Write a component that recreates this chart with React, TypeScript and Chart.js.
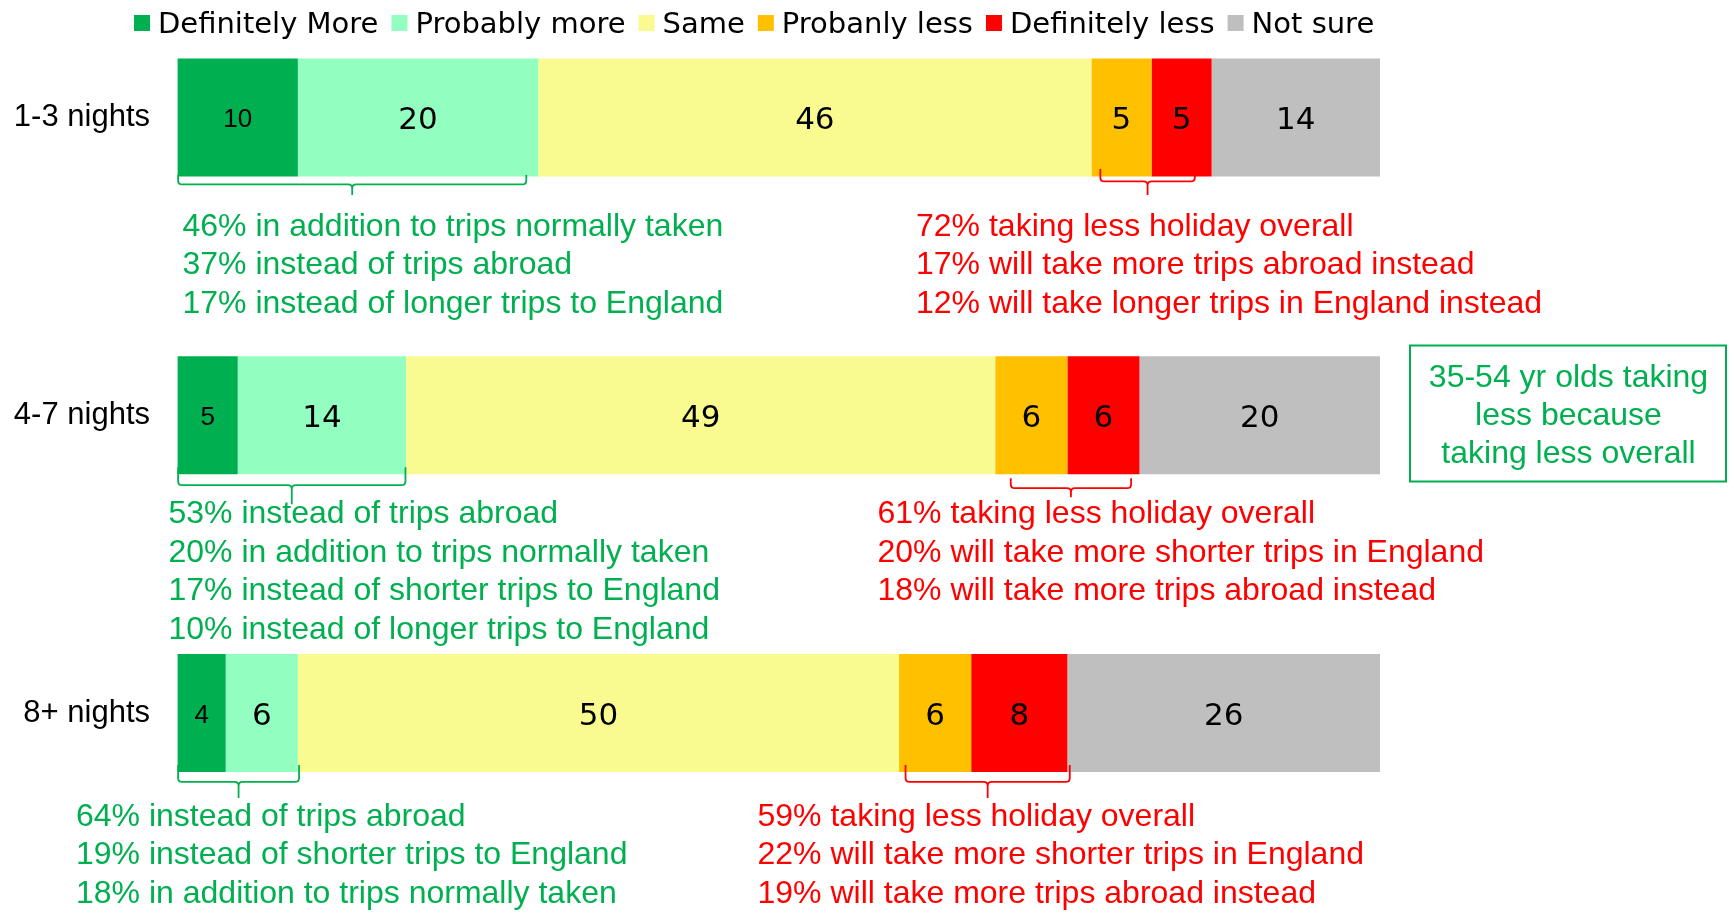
import React, { useEffect, useRef } from "react";
import { Chart, registerables } from "chart.js";

Chart.register(...registerables);

// ---------- data ----------
const CATEGORIES = ["1-3 nights", "4-7 nights", "8+ nights"];
const SERIES_LABELS = [
  "Definitely More",
  "Probably more",
  "Same",
  "Probanly less",
  "Definitely less",
  "Not sure",
];
const DEFINITELY_MORE = [10, 5, 4];
const PROBABLY_MORE = [20, 14, 6];
const SAME = [46, 49, 50];
const PROBABLY_LESS = [5, 6, 6];
const DEFINITELY_LESS = [5, 6, 8];
const NOT_SURE = [14, 20, 26];

const GREEN_NOTES_1 = [
  "46% in addition to trips normally taken",
  "37% instead of trips abroad",
  "17% instead of longer trips to England",
];
const RED_NOTES_1 = [
  "72% taking less holiday overall",
  "17% will take more trips abroad instead",
  "12% will take longer trips in England instead",
];
const GREEN_NOTES_2 = [
  "53% instead of trips abroad",
  "20% in addition to trips normally taken",
  "17% instead of shorter trips to England",
  "10% instead of longer trips to England",
];
const RED_NOTES_2 = [
  "61% taking less holiday overall",
  "20% will take more shorter trips in England",
  "18% will take more trips abroad instead",
];
const GREEN_NOTES_3 = [
  "64% instead of trips abroad",
  "19% instead of shorter trips to England",
  "18% in addition to trips normally taken",
];
const RED_NOTES_3 = [
  "59% taking less holiday overall",
  "22% will take more shorter trips in England",
  "19% will take more trips abroad instead",
];
const BOX_NOTE = ["35-54 yr olds taking", "less because", "taking less overall"];

// ---------- styles / layout ----------
const COLORS = ["#00B050", "#92FFC0", "#F9FA8F", "#FFC000", "#FF0000", "#BFBFBF"];
const NOTE_GREEN = "#00B050";
const NOTE_RED = "#FF0000";
const ARIAL = "'Liberation Sans', Arial, sans-serif";
const VERDANA = "'DejaVu Sans', Verdana, sans-serif";

// bracket spans expressed in axis units (percent), offsets in px relative to bar bottom
const BRACKETS = [
  { row: 0, from: 0, to: 29, color: NOTE_GREEN, top: -1.5, mid: 8, tip: 18.5 },
  { row: 0, from: 76.7, to: 84.6, color: NOTE_RED, top: -7.5, mid: 5, tip: 18.5 },
  { row: 1, from: 0, to: 18.95, color: NOTE_GREEN, top: -7, mid: 11, tip: 30 },
  { row: 1, from: 69.25, to: 79.3, color: NOTE_RED, top: 4, mid: 14, tip: 23 },
  { row: 2, from: 0, to: 10.1, color: NOTE_GREEN, top: -7, mid: 10, tip: 26 },
  { row: 2, from: 60.5, to: 74.2, color: NOTE_RED, top: -7, mid: 10, tip: 26 },
];

const NOTE_BLOCKS = [
  { lines: GREEN_NOTES_1, color: NOTE_GREEN, x: 182.5, y: 235.5 },
  { lines: RED_NOTES_1, color: NOTE_RED, x: 916, y: 235.5 },
  { lines: GREEN_NOTES_2, color: NOTE_GREEN, x: 168.5, y: 523 },
  { lines: RED_NOTES_2, color: NOTE_RED, x: 877.5, y: 523 },
  { lines: GREEN_NOTES_3, color: NOTE_GREEN, x: 76, y: 825.5 },
  { lines: RED_NOTES_3, color: NOTE_RED, x: 757.5, y: 825.5 },
];
const LINE_STEP = 38.6;

const annotationPlugin = {
  id: "annotations",
  afterDatasetsDraw(chart: any) {
    const ctx: CanvasRenderingContext2D = chart.ctx;
    const xScale = chart.scales.x;
    ctx.save();

    // segment value labels
    chart.data.datasets.forEach((ds: any, di: number) => {
      const meta = chart.getDatasetMeta(di);
      meta.data.forEach((el: any, i: number) => {
        const { x, base, y } = el.getProps(["x", "base", "y"], true);
        const cx = (x + base) / 2;
        ctx.fillStyle = "#000";
        ctx.textAlign = "center";
        ctx.textBaseline = "alphabetic";
        if (di === 0) {
          ctx.font = `26px ${ARIAL}`;
          ctx.fillText(String(ds.data[i]), cx, y + 9.5);
        } else {
          ctx.font = `31px ${VERDANA}`;
          ctx.fillText(String(ds.data[i]), cx, y + 11.5);
        }
      });
    });

    // brackets
    const meta0 = chart.getDatasetMeta(0);
    BRACKETS.forEach((b) => {
      const el = meta0.data[b.row];
      const { y, height } = el.getProps(["y", "height"], true);
      const bottom = y + height / 2;
      const x1 = xScale.getPixelForValue(b.from) + 0.5;
      const x2 = xScale.getPixelForValue(b.to);
      const xm = (x1 + x2) / 2;
      const top = bottom + b.top;
      const mid = bottom + b.mid;
      const tip = bottom + b.tip;
      const r = 4;
      ctx.strokeStyle = b.color;
      ctx.lineWidth = 1.8;
      ctx.beginPath();
      ctx.moveTo(x1, top);
      ctx.lineTo(x1, mid - r);
      ctx.quadraticCurveTo(x1, mid, x1 + r, mid);
      ctx.lineTo(xm - r, mid);
      ctx.quadraticCurveTo(xm, mid, xm, mid + r);
      ctx.lineTo(xm, tip);
      ctx.moveTo(xm, mid + r);
      ctx.quadraticCurveTo(xm, mid, xm + r, mid);
      ctx.lineTo(x2 - r, mid);
      ctx.quadraticCurveTo(x2, mid, x2, mid - r);
      ctx.lineTo(x2, top);
      ctx.stroke();
    });

    // note blocks
    ctx.font = `32px ${ARIAL}`;
    ctx.textAlign = "left";
    ctx.textBaseline = "alphabetic";
    NOTE_BLOCKS.forEach((blk) => {
      ctx.fillStyle = blk.color;
      blk.lines.forEach((t, i) => ctx.fillText(t, blk.x, blk.y + i * LINE_STEP));
    });

    // boxed note
    ctx.strokeStyle = NOTE_GREEN;
    ctx.lineWidth = 2;
    ctx.strokeRect(1410, 345.5, 316, 136);
    ctx.fillStyle = NOTE_GREEN;
    ctx.textAlign = "center";
    BOX_NOTE.forEach((t, i) => ctx.fillText(t, 1568.5, 386.5 + i * 38));

    // legend
    ctx.font = `29px ${VERDANA}`;
    ctx.textAlign = "left";
    let lx = 134;
    SERIES_LABELS.forEach((lab, i) => {
      ctx.fillStyle = COLORS[i];
      ctx.fillRect(lx, 15, 16, 16);
      lx += 16 + 8;
      ctx.fillStyle = "#000";
      ctx.fillText(lab, lx, 33);
      lx += ctx.measureText(lab).width + 13;
    });

    ctx.restore();
  },
};

export default function App() {
  const canvasRef = useRef<HTMLCanvasElement | null>(null);

  useEffect(() => {
    document.body.style.margin = "0";
    const canvas = canvasRef.current;
    if (!canvas) return;
    const seriesValues = [
      DEFINITELY_MORE,
      PROBABLY_MORE,
      SAME,
      PROBABLY_LESS,
      DEFINITELY_LESS,
      NOT_SURE,
    ];
    const chart = new Chart(canvas, {
      type: "bar",
      data: {
        labels: CATEGORIES,
        datasets: seriesValues.map((vals, i) => ({
          label: SERIES_LABELS[i],
          data: vals,
          backgroundColor: COLORS[i],
          borderWidth: 0,
          barPercentage: 1,
          categoryPercentage: 0.396,
          clip: false as any,
        })),
      },
      options: {
        indexAxis: "y",
        responsive: false,
        animation: false,
        events: [],
        layout: { padding: { top: 117.5, bottom: 203, left: 0, right: 350 } },
        plugins: {
          legend: { display: false },
          tooltip: { enabled: false },
          title: { display: false },
        },
        scales: {
          x: {
            stacked: true,
            min: 0,
            max: 100,
            display: false,
          },
          y: {
            stacked: true,
            offset: false,
            grid: { display: false, drawTicks: false },
            border: { display: false },
            ticks: {
              color: "#000",
              font: { family: ARIAL, size: 31 },
              padding: 27.6,
              autoSkip: false,
            },
            afterFit: (scale: any) => {
              scale.width = 177.6;
            },
          },
        },
      },
      plugins: [annotationPlugin],
    });
    return () => chart.destroy();
  }, []);

  return (
    <div style={{ width: 1730, height: 916 }}>
      <canvas ref={canvasRef} width={1730} height={916} style={{ display: "block" }} />
    </div>
  );
}
